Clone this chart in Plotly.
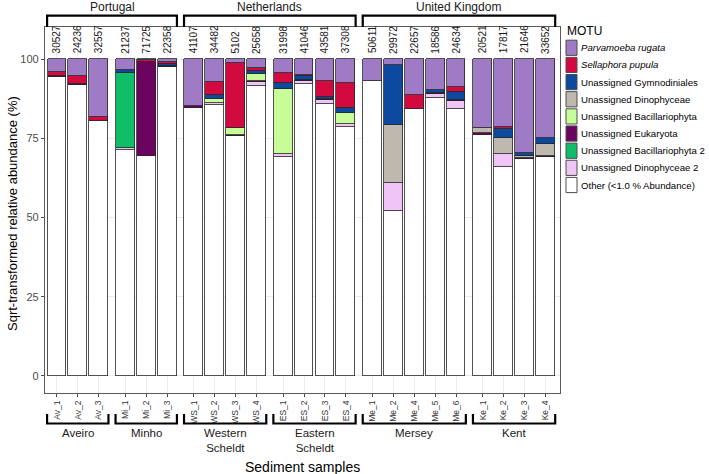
import plotly.graph_objects as go

# ---------------- data ----------------
samples = ["Av_1", "Av_2", "Av_3", "Mi_1", "Mi_2", "Mi_3",
           "WS_1", "WS_2", "WS_3", "WS_4", "ES_1", "ES_2", "ES_3", "ES_4",
           "Me_1", "Me_2", "Me_4", "Me_5", "Me_6", "Ke_1", "Ke_2", "Ke_3", "Ke_4"]
read_counts = [30527, 24236, 32557, 21237, 71725, 22358,
               41107, 34482, 5102, 25658, 31998, 41046, 43581, 37308,
               50611, 29972, 22657, 18586, 24634, 20521, 17817, 21646, 33652]
regions = ["Aveiro", "Minho", "Western<br>Scheldt", "Eastern<br>Scheldt", "Mersey", "Kent"]
region_sizes = [3, 3, 4, 4, 5, 4]
countries = ["Portugal", "Netherlands", "United Kingdom"]
country_regions = [2, 2, 2]

motu_names = ["<i>Parvamoeba rugata</i>", "<i>Sellaphora pupula</i>", "Unassigned Gymnodiniales",
              "Unassigned Dinophyceae", "Unassigned Bacillariophyta", "Unassigned Eukaryota",
              "Unassigned Bacillariophyta 2", "Unassigned Dinophyceae 2", "Other (<1.0 % Abundance)"]
motu_colors = ["#9E7BC4", "#D20A40", "#0B4A9E", "#BFB8AF", "#C6FD98", "#6A045E",
               "#10BE6A", "#EFC4F7", "#FFFFFF"]

# sqrt-transformed relative abundance (%) per sample, one list per MOTU
parvamoeba     = [3.9, 5.3, 18.1, 3.4, 0.3, 0.9, 14.7, 7.3, 1.3, 2.8, 4.2, 5.0, 6.9, 7.4,
                  6.8, 1.8, 11.3, 9.7, 8.7, 21.8, 21.5, 29.5, 25.0]
sellaphora     = [1.3, 2.5, 1.3, 0.0, 0.7, 0.7, 0.0, 4.0, 20.5, 0.8, 3.4, 0.4, 4.9, 8.1,
                  0.0, 0.0, 4.5, 0.0, 1.5, 0.0, 0.5, 0.0, 0.0]
gymnodiniales  = [0.0, 0.0, 0.0, 0.8, 0.0, 0.4, 0.0, 1.3, 0.0, 1.2, 1.9, 1.1, 0.8, 1.4,
                  0.0, 18.9, 0.0, 0.8, 2.7, 0.0, 3.0, 1.0, 1.7]
dinophyceae    = [0.0, 0.0, 0.0, 0.0, 0.0, 0.0, 0.0, 0.0, 0.0, 0.0, 0.0, 0.0, 0.0, 0.0,
                  0.0, 18.5, 0.0, 0.0, 0.0, 1.6, 4.9, 0.6, 3.8]
bacillario     = [0.0, 0.0, 0.0, 0.0, 0.0, 0.0, 0.0, 1.1, 2.1, 2.0, 20.4, 0.0, 0.0, 3.5,
                  0.0, 0.0, 0.0, 0.0, 0.0, 0.0, 0.0, 0.0, 0.0]
eukaryota      = [0.5, 0.3, 0.0, 0.0, 29.4, 0.5, 0.8, 0.0, 0.4, 0.5, 0.0, 0.5, 0.4, 0.0,
                  0.0, 0.0, 0.0, 0.4, 0.4, 0.4, 0.0, 0.4, 0.5]
bacillario2    = [0.0, 0.0, 0.0, 23.7, 0.0, 0.0, 0.0, 0.0, 0.0, 0.0, 0.0, 0.0, 0.0, 0.0,
                  0.0, 0.0, 0.0, 0.0, 0.0, 0.0, 0.0, 0.0, 0.0]
dinophyceae2   = [0.0, 0.0, 0.0, 0.7, 0.0, 0.0, 0.0, 0.8, 0.0, 1.0, 1.1, 0.8, 1.2, 1.1,
                  0.0, 8.7, 0.0, 1.3, 2.4, 0.0, 4.0, 0.0, 0.0]
other          = [94.3, 91.9, 80.6, 71.4, 69.6, 97.5, 84.5, 85.5, 75.7, 91.7, 69.0, 92.2, 85.8, 78.5,
                  93.2, 52.1, 84.2, 87.8, 84.3, 76.2, 66.1, 68.5, 69.0]

motu_values = [parvamoeba, sellaphora, gymnodiniales, dinophyceae, bacillario,
               eukaryota, bacillario2, dinophyceae2, other]
y_ticks = [0, 25, 50, 75, 100]

# ---------------- layout helpers ----------------
W, H = 709, 474
L, R, T, B = 45, 560, 27, 393          # panel box in pixels
GAP = 0.28                              # extra gap between regions (x units)
X_RANGE = [-0.57, 24.1]
Y_RANGE = [-5.4, 110.2]
FONT = "Liberation Sans, Arial, sans-serif"

def px_x(p):
    return (p - L) / (R - L)

def px_y(p):
    return (B - p) / (B - T)

# x positions from region membership
positions, region_of = [], []
i = 0
for g, n in enumerate(region_sizes):
    for _ in range(n):
        positions.append(i + GAP * g)
        region_of.append(g)
        i += 1

fig = go.Figure()
# stack from bottom: Other first, Parvamoeba last (top)
for name, col, vals in reversed(list(zip(motu_names, motu_colors, motu_values))):
    fig.add_trace(go.Bar(x=positions, y=vals, name=name, width=0.9,
                         marker=dict(color=col, line=dict(color="#262626", width=0.8)),
                         showlegend=False))

shapes, annotations = [], []

# read counts above bars
for x, c in zip(positions, read_counts):
    annotations.append(dict(x=x, y=101.2, xref="x", yref="y", text=str(c), textangle=-90,
                            showarrow=False, xanchor="center", yanchor="bottom",
                            font=dict(size=10, color="#1a1a1a", family=FONT)))

# region brackets and labels (bottom)
start = 0
region_bounds = []
for g, n in enumerate(region_sizes):
    x0 = positions[start] - 0.47
    x1 = positions[start + n - 1] + 0.47
    region_bounds.append((x0, x1))
    yb, yt = px_y(423.5), px_y(414)
    shapes.append(dict(type="path", xref="x", yref="paper",
                       path=f"M {x0},{yt} L {x0},{yb} L {x1},{yb} L {x1},{yt}",
                       line=dict(color="black", width=2.2)))
    annotations.append(dict(x=(x0 + x1) / 2, y=px_y(425), xref="x", yref="paper",
                            text=regions[g], showarrow=False, xanchor="center", yanchor="top",
                            font=dict(size=11.5, color="#1a1a1a", family=FONT)))
    start += n

# country brackets and labels (top)
r = 0
for c, k in zip(countries, country_regions):
    x0 = region_bounds[r][0]
    x1 = region_bounds[r + k - 1][1]
    yt, yb = px_y(15.7), px_y(27)
    shapes.append(dict(type="path", xref="x", yref="paper",
                       path=f"M {x0},{yb} L {x0},{yt} L {x1},{yt} L {x1},{yb}",
                       line=dict(color="black", width=2.2)))
    annotations.append(dict(x=(x0 + x1) / 2, y=px_y(6.5), xref="x", yref="paper",
                            text=c, showarrow=False, xanchor="center", yanchor="middle",
                            font=dict(size=12, color="#1a1a1a", family=FONT)))
    r += k

# axis titles
annotations.append(dict(x=0.5, y=px_y(467), xref="paper", yref="paper",
                        text="Sediment samples", showarrow=False, xanchor="center", yanchor="middle",
                        font=dict(size=14, color="black", family=FONT)))
annotations.append(dict(x=px_x(12), y=px_y(214), xref="paper", yref="paper", textangle=-90,
                        text="Sqrt-transformed relative abundance (%)", showarrow=False,
                        xanchor="center", yanchor="middle",
                        font=dict(size=13, color="black", family=FONT)))

# legend (drawn manually)
annotations.append(dict(x=px_x(565), y=px_y(31), xref="paper", yref="paper", text="MOTU",
                        showarrow=False, xanchor="left", yanchor="middle",
                        font=dict(size=12, color="black", family=FONT)))
for k, (name, col) in enumerate(zip(motu_names, motu_colors)):
    yc = 47.8 + 17.15 * k
    shapes.append(dict(type="rect", xref="paper", yref="paper",
                       x0=px_x(566), x1=px_x(577), y0=px_y(yc - 7.6), y1=px_y(yc + 7.6),
                       fillcolor=col, line=dict(color="#4d4d4d", width=1)))
    annotations.append(dict(x=px_x(579), y=px_y(yc), xref="paper", yref="paper", text=name,
                            showarrow=False, xanchor="left", yanchor="middle",
                            font=dict(size=9.6, color="black", family=FONT)))

fig.update_layout(
    width=W, height=H,
    margin=dict(l=L, r=W - R, t=T, b=H - B, pad=0),
    barmode="stack", bargap=0,
    plot_bgcolor="white", paper_bgcolor="white",
    font=dict(family=FONT),
    shapes=shapes, annotations=annotations,
    showlegend=False,
)
fig.update_xaxes(range=X_RANGE, tickmode="array", tickvals=positions, ticktext=samples,
                 tickangle=-90, tickfont=dict(size=8.5, color="#333333", family=FONT),
                 ticks="outside", ticklen=3, tickcolor="#4d4d4d",
                 showgrid=True, gridcolor="#ebebeb", gridwidth=0.6,
                 showline=True, linecolor="#5a5a5a", linewidth=1.2, mirror=True, zeroline=False)
fig.update_yaxes(range=Y_RANGE, tickmode="array", tickvals=y_ticks,
                 tickfont=dict(size=11, color="#4d4d4d", family=FONT),
                 ticks="outside", ticklen=3, tickcolor="#4d4d4d",
                 showgrid=True, gridcolor="#ebebeb", gridwidth=0.6,
                 showline=True, linecolor="#5a5a5a", linewidth=1.2, mirror=True, zeroline=False)

fig.write_html("out.html", config={"displayModeBar": False},
               post_script="document.body.style.margin='0px';document.body.style.overflow='hidden';")
